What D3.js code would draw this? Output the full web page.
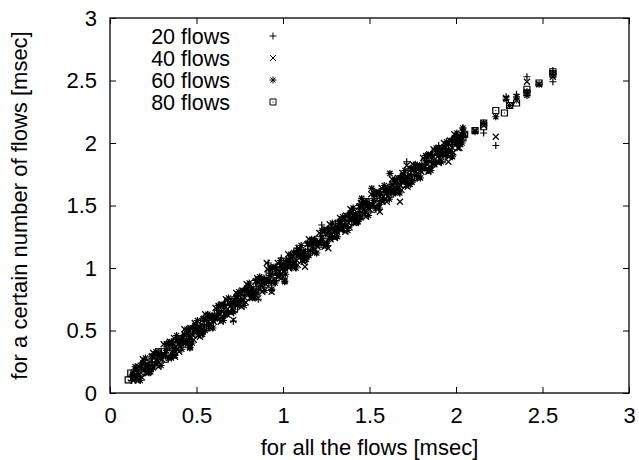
<!DOCTYPE html>
<html>
<head>
<meta charset="utf-8">
<script src="https://cdn.jsdelivr.net/npm/d3@7"></script>
<style>
  html, body { margin: 0; padding: 0; background: #fff; }
  svg { display: block; }
  text { font-family: "Liberation Sans", Arial, Helvetica, sans-serif; fill: #000; }
</style>
</head>
<body>
<svg id="chart" width="639" height="460"></svg>
<script>
// ---- data ----
const seriesNames = ["20 flows", "40 flows", "60 flows", "80 flows"];
const xTicks = [0, 0.5, 1, 1.5, 2, 2.5, 3];
const yTicks = [0, 0.5, 1, 1.5, 2, 2.5, 3];
const xTitle = "for all the flows [msec]";
const yTitle = "for a certain number of flows [msec]";

const flows20 = [
[0.12,0.13],[0.15,0.11],[0.18,0.19],[0.21,0.19],[0.24,0.29],[0.27,0.24],[0.30,0.30],[0.33,0.36],[0.36,0.31],[0.39,0.41],
[0.42,0.46],[0.45,0.40],[0.48,0.49],[0.51,0.49],[0.54,0.60],[0.57,0.54],[0.60,0.60],[0.63,0.66],[0.66,0.61],[0.69,0.71],
[0.72,0.77],[0.75,0.70],[0.78,0.79],[0.81,0.79],[0.84,0.90],[0.87,0.84],[0.90,0.90],[0.93,0.96],[0.96,0.90],[0.99,1.01],
[1.02,1.06],[1.05,1.00],[1.08,1.09],[1.11,1.09],[1.14,1.20],[1.17,1.14],[1.20,1.20],[1.23,1.26],[1.26,1.21],[1.29,1.31],
[1.32,1.37],[1.35,1.30],[1.38,1.39],[1.41,1.40],[1.44,1.50],[1.47,1.44],[1.50,1.51],[1.53,1.57],[1.56,1.51],[1.59,1.61],
[1.62,1.67],[1.65,1.60],[1.68,1.69],[1.71,1.69],[1.74,1.80],[1.77,1.74],[1.80,1.80],[1.83,1.86],[1.86,1.81],[1.89,1.91],
[1.92,1.96],[1.95,1.90],[1.98,1.99],[2.01,2.02],[2.04,2.08],
[0.125,0.10],[0.155,0.17],[0.185,0.24],[0.215,0.17],[0.245,0.25],[0.275,0.31],[0.305,0.29],[0.335,0.28],[0.365,0.40],[0.395,0.41],
[0.425,0.40],[0.455,0.48],[0.485,0.54],[0.515,0.47],[0.545,0.55],[0.575,0.62],[0.605,0.59],[0.635,0.58],[0.665,0.70],[0.695,0.71],
[0.725,0.70],[0.755,0.78],[0.785,0.84],[0.815,0.77],[0.845,0.85],[0.875,0.92],[0.905,0.89],[0.935,0.88],[0.965,1.00],[0.995,1.01],
[1.025,1.00],[1.055,1.08],[1.085,1.14],[1.115,1.07],[1.145,1.15],[1.175,1.22],[1.205,1.19],[1.235,1.18],[1.265,1.30],[1.295,1.31],
[1.325,1.30],[1.355,1.38],[1.385,1.44],[1.415,1.37],[1.445,1.45],[1.475,1.52],[1.505,1.49],[1.535,1.48],[1.565,1.60],[1.595,1.61],
[1.625,1.60],[1.655,1.68],[1.685,1.74],[1.715,1.67],[1.745,1.75],[1.775,1.82],[1.805,1.79],[1.835,1.78],[1.865,1.90],[1.895,1.91],
[1.925,1.90],[1.955,1.98],[1.985,2.04],[2.015,2.00],[2.045,2.05],
[0.14,0.15],[0.17,0.13],[0.20,0.26],[0.23,0.22],[0.26,0.23],[0.29,0.32],[0.32,0.32],[0.35,0.30],[0.38,0.43],[0.41,0.39],
[0.44,0.45],[0.47,0.43],[0.50,0.56],[0.53,0.52],[0.56,0.53],[0.59,0.62],[0.62,0.62],[0.65,0.60],[0.68,0.73],[0.71,0.69],
[0.74,0.75],[0.77,0.73],[0.80,0.86],[0.83,0.82],[0.86,0.83],[0.89,0.92],[0.92,0.92],[0.95,0.90],[0.98,1.03],[1.01,0.99],
[1.04,1.05],[1.07,1.03],[1.10,1.16],[1.13,1.12],[1.16,1.13],[1.19,1.22],[1.22,1.22],[1.25,1.20],[1.28,1.33],[1.31,1.29],
[1.34,1.35],[1.37,1.33],[1.40,1.46],[1.43,1.42],[1.46,1.43],[1.49,1.52],[1.52,1.52],[1.55,1.50],[1.58,1.63],[1.61,1.59],
[1.64,1.65],[1.67,1.63],[1.70,1.76],[1.73,1.72],[1.76,1.73],[1.79,1.82],[1.82,1.82],[1.85,1.80],[1.88,1.93],[1.91,1.89],
[1.94,1.95],[1.97,1.93],[2.00,2.06],[2.03,2.03],
[0.915,1.04],[0.99,1.08],[1.08,1.16],[1.224,1.344],[1.715,1.85],[1.90,1.98],[2.04,2.12],[2.16,2.08],[2.23,1.98],
[2.29,2.37],[2.35,2.39],[2.41,2.53],[2.56,2.49],[2.56,2.58],[0.713,0.575],[0.857,0.75],[0.935,0.82],[1.01,0.895],[0.462,0.365]
];
const flows40 = [
[0.135,0.10],[0.165,0.21],[0.195,0.20],[0.225,0.17],[0.255,0.29],[0.285,0.30],[0.315,0.30],[0.345,0.41],[0.375,0.33],[0.405,0.43],
[0.435,0.40],[0.465,0.52],[0.495,0.50],[0.525,0.47],[0.555,0.59],[0.585,0.60],[0.615,0.60],[0.645,0.71],[0.675,0.63],[0.705,0.73],
[0.735,0.70],[0.765,0.82],[0.795,0.80],[0.825,0.77],[0.855,0.89],[0.885,0.90],[0.915,0.90],[0.945,1.01],[0.975,0.93],[1.005,1.03],
[1.035,1.00],[1.065,1.12],[1.095,1.10],[1.125,1.07],[1.155,1.19],[1.185,1.20],[1.215,1.20],[1.245,1.31],[1.275,1.23],[1.305,1.33],
[1.335,1.30],[1.365,1.42],[1.395,1.40],[1.425,1.37],[1.455,1.49],[1.485,1.50],[1.515,1.50],[1.545,1.61],[1.575,1.53],[1.605,1.63],
[1.635,1.60],[1.665,1.72],[1.695,1.70],[1.725,1.67],[1.755,1.79],[1.785,1.80],[1.815,1.80],[1.845,1.91],[1.875,1.83],[1.905,1.93],
[1.935,1.90],[1.965,2.02],[1.995,2.00],[2.025,1.99],
[0.15,0.18],[0.18,0.16],[0.21,0.16],[0.24,0.29],[0.27,0.27],[0.30,0.27],[0.33,0.39],[0.36,0.37],[0.39,0.35],[0.42,0.44],
[0.45,0.48],[0.48,0.46],[0.51,0.46],[0.54,0.59],[0.57,0.57],[0.60,0.57],[0.63,0.69],[0.66,0.67],[0.69,0.65],[0.72,0.74],
[0.75,0.78],[0.78,0.76],[0.81,0.76],[0.84,0.89],[0.87,0.87],[0.90,0.87],[0.93,0.99],[0.96,0.97],[0.99,0.95],[1.02,1.04],
[1.05,1.08],[1.08,1.06],[1.11,1.06],[1.14,1.19],[1.17,1.17],[1.20,1.17],[1.23,1.29],[1.26,1.27],[1.29,1.25],[1.32,1.34],
[1.35,1.38],[1.38,1.36],[1.41,1.36],[1.44,1.49],[1.47,1.47],[1.50,1.47],[1.53,1.59],[1.56,1.57],[1.59,1.55],[1.62,1.64],
[1.65,1.68],[1.68,1.66],[1.71,1.66],[1.74,1.79],[1.77,1.77],[1.80,1.77],[1.83,1.89],[1.86,1.87],[1.89,1.85],[1.92,1.94],
[1.95,1.98],[1.98,1.96],[2.01,1.96],[2.04,2.09],
[0.125,0.115],[0.155,0.195],[0.185,0.125],[0.215,0.235],[0.245,0.295],[0.275,0.255],[0.305,0.315],[0.335,0.295],[0.365,0.395],[0.395,0.395],
[0.425,0.415],[0.455,0.495],[0.485,0.425],[0.515,0.535],[0.545,0.595],[0.575,0.555],[0.605,0.615],[0.635,0.595],[0.665,0.695],[0.695,0.695],
[0.725,0.715],[0.755,0.795],[0.785,0.725],[0.815,0.835],[0.845,0.895],[0.875,0.855],[0.905,0.915],[0.935,0.895],[0.965,0.995],[0.995,0.995],
[1.025,1.015],[1.055,1.095],[1.085,1.025],[1.115,1.135],[1.145,1.195],[1.175,1.155],[1.205,1.215],[1.235,1.195],[1.265,1.295],[1.295,1.295],
[1.325,1.315],[1.355,1.395],[1.385,1.325],[1.415,1.435],[1.445,1.495],[1.475,1.455],[1.505,1.515],[1.535,1.495],[1.565,1.595],[1.595,1.595],
[1.625,1.615],[1.655,1.695],[1.685,1.625],[1.715,1.735],[1.745,1.795],[1.775,1.755],[1.805,1.815],[1.835,1.795],[1.865,1.895],[1.895,1.895],
[1.925,1.915],[1.955,1.995],[1.985,1.925],[2.015,2.035],
[0.16,0.10],[0.19,0.27],[0.22,0.16],[0.25,0.32],[0.28,0.21],[0.31,0.39],[0.34,0.28],[0.37,0.44],[0.40,0.33],[0.43,0.51],
[0.46,0.40],[0.49,0.56],[0.52,0.45],[0.55,0.63],[0.58,0.52],[0.61,0.68],[0.64,0.57],[0.67,0.75],[0.70,0.64],[0.73,0.80],
[0.76,0.69],[0.79,0.87],[0.82,0.76],[0.85,0.92],[0.88,0.81],[0.91,0.99],[0.94,0.88],[0.97,1.04],[1.00,0.93],[1.03,1.11],
[1.06,1.00],[1.09,1.16],[1.12,1.05],[1.15,1.23],[1.18,1.12],[1.21,1.28],[1.24,1.17],[1.27,1.35],[1.30,1.24],[1.33,1.40],
[1.36,1.29],[1.39,1.47],[1.42,1.36],[1.45,1.52],[1.48,1.41],[1.51,1.59],[1.54,1.48],[1.57,1.64],[1.60,1.53],[1.63,1.71],
[1.66,1.60],[1.69,1.76],[1.72,1.65],[1.75,1.83],[1.78,1.72],[1.81,1.88],[1.84,1.77],[1.87,1.95],[1.90,1.84],[1.93,2.00],
[1.96,1.89],[1.99,2.07],[2.02,1.96],
[0.376,0.29],[0.462,0.37],[0.713,0.585],[0.857,0.757],[0.934,0.81],[1.01,0.90],[0.906,1.04],[1.127,1.01],[1.262,1.158],
[1.56,1.45],[1.676,1.53],[1.744,1.69],[1.956,1.85],[1.715,1.82],[2.05,2.07],[2.11,2.10],[2.16,2.14],[2.23,2.05],
[2.289,2.36],[2.35,2.34],[2.41,2.49],[2.48,2.47],[2.56,2.53]
];
const flows60 = [
[0.13,0.15],[0.145,0.12],[0.175,0.22],[0.205,0.19],[0.235,0.19],[0.265,0.31],[0.295,0.28],[0.325,0.34],[0.355,0.41],[0.385,0.35],
[0.415,0.43],[0.445,0.41],[0.475,0.52],[0.505,0.50],[0.535,0.49],[0.565,0.61],[0.595,0.58],[0.625,0.64],[0.655,0.71],[0.685,0.65],
[0.715,0.73],[0.745,0.72],[0.775,0.82],[0.805,0.80],[0.835,0.79],[0.865,0.91],[0.895,0.88],[0.925,0.94],[0.955,1.01],[0.985,0.95],
[1.015,1.03],[1.045,1.02],[1.075,1.12],[1.105,1.10],[1.135,1.09],[1.165,1.21],[1.195,1.18],[1.225,1.24],[1.255,1.31],[1.285,1.25],
[1.315,1.33],[1.345,1.32],[1.375,1.42],[1.405,1.40],[1.435,1.39],[1.465,1.51],[1.495,1.48],[1.525,1.54],[1.555,1.61],[1.585,1.55],
[1.615,1.63],[1.645,1.62],[1.675,1.72],[1.705,1.70],[1.735,1.69],[1.765,1.81],[1.795,1.78],[1.825,1.84],[1.855,1.91],[1.885,1.85],
[1.915,1.93],[1.945,1.92],[1.975,2.02],[2.005,2.00],[2.035,2.07],
[0.16,0.14],[0.19,0.24],[0.22,0.23],[0.25,0.20],[0.28,0.31],[0.31,0.30],[0.34,0.40],[0.37,0.34],[0.40,0.40],[0.43,0.47],
[0.46,0.44],[0.49,0.54],[0.52,0.53],[0.55,0.50],[0.58,0.61],[0.61,0.60],[0.64,0.70],[0.67,0.64],[0.70,0.70],[0.73,0.77],
[0.76,0.74],[0.79,0.84],[0.82,0.83],[0.85,0.80],[0.88,0.91],[0.91,0.90],[0.94,1.00],[0.97,0.94],[1.00,1.00],[1.03,1.07],
[1.06,1.04],[1.09,1.14],[1.12,1.13],[1.15,1.10],[1.18,1.21],[1.21,1.20],[1.24,1.30],[1.27,1.24],[1.30,1.30],[1.33,1.37],
[1.36,1.34],[1.39,1.44],[1.42,1.43],[1.45,1.40],[1.48,1.51],[1.51,1.50],[1.54,1.60],[1.57,1.54],[1.60,1.60],[1.63,1.67],
[1.66,1.64],[1.69,1.74],[1.72,1.73],[1.75,1.70],[1.78,1.81],[1.81,1.80],[1.84,1.90],[1.87,1.84],[1.90,1.90],[1.93,1.97],
[1.96,1.94],[1.99,2.04],[2.02,2.03],
[0.145,0.21],[0.175,0.10],[0.205,0.28],[0.235,0.17],[0.265,0.33],[0.295,0.22],[0.325,0.39],[0.355,0.28],[0.385,0.46],[0.415,0.35],
[0.445,0.51],[0.475,0.40],[0.505,0.58],[0.535,0.47],[0.565,0.63],[0.595,0.52],[0.625,0.70],[0.655,0.58],[0.685,0.76],[0.715,0.65],
[0.745,0.81],[0.775,0.70],[0.805,0.88],[0.835,0.77],[0.865,0.93],[0.895,0.82],[0.925,1.00],[0.955,0.88],[0.985,1.06],[1.015,0.95],
[1.045,1.11],[1.075,1.00],[1.105,1.18],[1.135,1.07],[1.165,1.23],[1.195,1.12],[1.225,1.30],[1.255,1.18],[1.285,1.36],[1.315,1.25],
[1.345,1.41],[1.375,1.30],[1.405,1.48],[1.435,1.37],[1.465,1.53],[1.495,1.42],[1.525,1.60],[1.555,1.48],[1.585,1.66],[1.615,1.55],
[1.645,1.71],[1.675,1.60],[1.705,1.78],[1.735,1.67],[1.765,1.83],[1.795,1.72],[1.825,1.90],[1.855,1.78],[1.885,1.96],[1.915,1.85],
[1.945,2.01],[1.975,1.90],[2.005,2.08],[2.035,2.00],
[0.376,0.30],[0.462,0.36],[0.935,0.83],[1.01,0.89],[1.455,1.557],[1.513,1.637],[1.618,1.757],[1.84,1.78],[1.98,1.89],
[1.90,1.96],[2.04,2.12],[2.11,2.09],[2.16,2.16],[2.23,2.21],[2.29,2.35],[2.31,2.30],[2.35,2.37],[2.41,2.41],[2.41,2.38],
[2.48,2.47],[2.56,2.55]
];
const flows80 = [
[0.105,0.105],[0.14,0.16],[0.18,0.16],[0.22,0.24],[0.26,0.25],[0.30,0.33],[0.34,0.32],[0.38,0.40],[0.42,0.39],[0.46,0.49],
[0.50,0.48],[0.54,0.57],[0.58,0.56],[0.62,0.64],[0.66,0.63],[0.70,0.73],[0.74,0.72],[0.78,0.81],[0.82,0.80],[0.86,0.88],
[0.90,0.87],[0.94,0.97],[0.98,0.96],[1.02,1.05],[1.06,1.04],[1.10,1.12],[1.14,1.11],[1.18,1.21],[1.22,1.19],[1.26,1.29],
[1.30,1.28],[1.34,1.37],[1.38,1.35],[1.42,1.45],[1.46,1.44],[1.50,1.53],[1.54,1.51],[1.58,1.61],[1.62,1.59],[1.66,1.69],
[1.70,1.67],[1.74,1.77],[1.78,1.76],[1.82,1.85],[1.86,1.83],[1.90,1.93],[1.94,1.92],[1.98,2.01],[2.02,2.02],
[0.12,0.16],[0.16,0.12],[0.20,0.21],[0.24,0.22],[0.28,0.33],[0.32,0.27],[0.36,0.36],[0.40,0.43],[0.44,0.41],[0.48,0.50],
[0.52,0.56],[0.56,0.52],[0.60,0.61],[0.64,0.62],[0.68,0.73],[0.72,0.67],[0.76,0.76],[0.80,0.83],[0.84,0.81],[0.88,0.90],
[0.92,0.96],[0.96,0.92],[1.00,1.01],[1.04,1.02],[1.08,1.13],[1.12,1.07],[1.16,1.16],[1.20,1.23],[1.24,1.21],[1.28,1.30],
[1.32,1.36],[1.36,1.32],[1.40,1.41],[1.44,1.42],[1.48,1.53],[1.52,1.47],[1.56,1.56],[1.60,1.63],[1.64,1.61],[1.68,1.70],
[1.72,1.76],[1.76,1.72],[1.80,1.81],[1.84,1.82],[1.88,1.93],[1.92,1.87],[1.96,1.96],[2.00,2.03],[2.04,2.04],
[2.05,2.07],[2.11,2.10],[2.16,2.16],[2.16,2.13],[2.23,2.26],[2.28,2.24],[2.31,2.30],[2.35,2.32],[2.41,2.40],[2.41,2.43],
[2.48,2.48],[2.56,2.57],[2.56,2.55]
];
const allSeries = [flows20, flows40, flows60, flows80];

// ---- layout ----
const svg = d3.select("#chart");
const M = { left: 110, right: 629, top: 18, bottom: 393 };
const x = d3.scaleLinear().domain([0, 3]).range([M.left, M.right]);
const y = d3.scaleLinear().domain([0, 3]).range([M.bottom, M.top]);
const FS = 22;

// marker shapes (gnuplot style)
const shapes = [
  "M-3.5,0H3.5M0,-3.5V3.5",                                        // plus
  "M-3,-3L3,3M-3,3L3,-3",                                           // cross
  "M-3.5,0H3.5M0,-3.5V3.5M-2.6,-2.6L2.6,2.6M-2.6,2.6L2.6,-2.6",     // star
  "M-3,-3H3V3H-3Z M-0.5,0H0.5"                                      // box with dot
];

// axes
const tickLen = 6;
const axB = d3.axisBottom(x).tickValues(xTicks).tickSize(-tickLen).tickFormat(d3.format("~g")).tickPadding(14);
const axT = d3.axisTop(x).tickValues(xTicks).tickSize(-tickLen).tickFormat("");
const axL = d3.axisLeft(y).tickValues(yTicks).tickSize(-tickLen).tickFormat(d3.format("~g")).tickPadding(13);
const axR = d3.axisRight(y).tickValues(yTicks).tickSize(-tickLen).tickFormat("");

function styleAxis(g) {
  g.select(".domain").remove();
  g.selectAll(".tick line").attr("stroke", "#000").attr("stroke-width", 1);
  g.selectAll("text").attr("font-size", FS).attr("fill", "#000")
    .attr("font-family", '"Liberation Sans", Arial, sans-serif');
}
svg.append("g").attr("transform", `translate(0,${M.bottom})`).call(axB).call(styleAxis);
svg.append("g").attr("transform", `translate(0,${M.top})`).call(axT).call(styleAxis);
svg.append("g").attr("transform", `translate(${M.left},0)`).call(axL).call(styleAxis);
svg.append("g").attr("transform", `translate(${M.right},0)`).call(axR).call(styleAxis);

// frame
svg.append("rect")
  .attr("x", M.left).attr("y", M.top)
  .attr("width", M.right - M.left).attr("height", M.bottom - M.top)
  .attr("fill", "none").attr("stroke", "#000").attr("stroke-width", 1.3);

// points
allSeries.forEach((data, i) => {
  svg.append("g").selectAll("path").data(data).join("path")
    .attr("transform", d => `translate(${x(d[0])},${y(d[1])})`)
    .attr("d", shapes[i])
    .attr("fill", "none").attr("stroke", "#000").attr("stroke-width", 1.2);
});

// legend
const legX = 230, legMarkX = 273, legY0 = 36, legDy = 22;
seriesNames.forEach((name, i) => {
  svg.append("text").attr("x", legX).attr("y", legY0 + i * legDy)
    .attr("dy", "0.35em").attr("text-anchor", "end").attr("font-size", 21.5).text(name);
  svg.append("path").attr("transform", `translate(${legMarkX},${legY0 + i * legDy})`)
    .attr("d", shapes[i]).attr("fill", "none").attr("stroke", "#000").attr("stroke-width", 1);
});

// titles
svg.append("text").attr("x", (M.left + M.right) / 2).attr("y", 455)
  .attr("text-anchor", "middle").attr("font-size", FS).text(xTitle);
svg.append("text")
  .attr("transform", `translate(27,${(M.top + M.bottom) / 2}) rotate(-90)`)
  .attr("text-anchor", "middle").attr("font-size", FS).text(yTitle);
</script>
</body>
</html>
